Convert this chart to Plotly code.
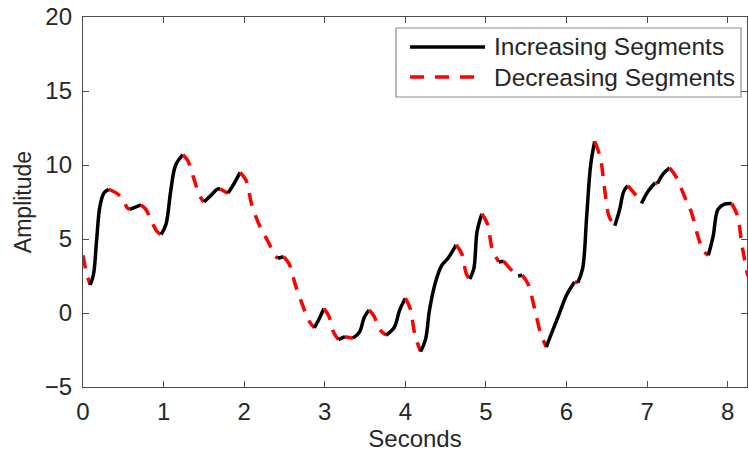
import plotly.graph_objects as go

# Curve key points (seconds, amplitude)
seconds = [0.00, 0.04, 0.09, 0.13, 0.17, 0.21, 0.26, 0.32, 0.40, 0.48, 0.55, 0.58,
           0.65, 0.72, 0.78, 0.85, 0.92, 0.97, 1.03, 1.09, 1.15, 1.24, 1.30, 1.38,
           1.45, 1.50, 1.58, 1.66, 1.70, 1.76, 1.80, 1.87, 1.95, 2.02, 2.10, 2.20,
           2.30, 2.38, 2.42, 2.49, 2.56, 2.63, 2.72, 2.80, 2.87, 2.93, 2.99, 3.05,
           3.11, 3.17, 3.25, 3.35, 3.43, 3.49, 3.55, 3.61, 3.68, 3.76, 3.86, 3.93,
           4.00, 4.06, 4.12, 4.19, 4.25, 4.30, 4.37, 4.45, 4.53, 4.63, 4.70, 4.76,
           4.80, 4.85, 4.89, 4.95, 5.02, 5.08, 5.16, 5.22, 5.30, 5.40, 5.45, 5.52,
           5.60, 5.68, 5.75, 5.82, 5.90, 6.00, 6.10, 6.14, 6.20, 6.25, 6.30, 6.35,
           6.42, 6.47, 6.53, 6.60, 6.66, 6.71, 6.76, 6.84, 6.93, 7.01, 7.10, 7.13,
           7.20, 7.28, 7.36, 7.47, 7.55, 7.63, 7.70, 7.76, 7.82, 7.88, 7.96, 8.05,
           8.12, 8.18, 8.25]
amplitude = [3.9, 2.8, 1.9, 2.6, 5.0, 7.2, 8.1, 8.35, 8.15, 7.8, 7.1, 7.0,
             7.15, 7.3, 7.0, 6.2, 5.5, 5.3, 6.0, 8.3, 10.0, 10.7, 10.3, 9.0,
             7.9, 7.5, 7.9, 8.35, 8.4, 8.2, 8.1, 8.7, 9.5, 9.0, 7.2, 5.8,
             4.8, 3.9, 3.7, 3.8, 3.3, 2.0, 0.6, -0.5, -1.0, -0.4, 0.3, -0.2,
             -1.3, -1.8, -1.6, -1.7, -1.3, -0.3, 0.2, -0.2, -1.1, -1.5, -1.0, 0.2,
             1.0, 0.3, -1.5, -2.6, -1.8, 0.2, 2.0, 3.2, 3.7, 4.6, 4.0, 2.6,
             2.3, 3.0, 5.5, 6.7, 6.0, 4.3, 3.45, 3.5, 3.0, 2.5, 2.55, 2.0,
             0.4, -1.4, -2.3, -1.3, -0.2, 1.2, 2.1, 2.05, 3.0, 6.5, 10.0, 11.6,
             10.5, 8.5, 6.5, 5.9, 7.0, 8.2, 8.6, 8.1, 7.4, 8.2, 8.8, 8.75,
             9.4, 9.8, 9.2, 7.8, 6.8, 5.2, 4.2, 3.9, 5.2, 7.0, 7.35, 7.4,
             6.6, 4.5, 2.5]

x_ticks = [0, 1, 2, 3, 4, 5, 6, 7, 8]
y_ticks = [-5, 0, 5, 10, 15, 20]

series_names = ["Increasing Segments", "Decreasing Segments"]
series_colors = ["#000000", "#ff0000"]

FONT = "Liberation Sans, Arial, sans-serif"
TXT = "#262626"
DASH = "13px,10px"
LEG_DASH = "14px,11px"

# split curve into monotonic runs
runs = []
cur = [0]
cur_dir = None
for i in range(1, len(seconds)):
    d = 1 if amplitude[i] > amplitude[i - 1] else -1
    if cur_dir is None or d == cur_dir:
        cur.append(i)
        cur_dir = d
    else:
        runs.append((cur_dir, cur))
        cur = [i - 1, i]
        cur_dir = d
runs.append((cur_dir, cur))

fig = go.Figure()
for d, idx in runs:
    k = 0 if d == 1 else 1
    fig.add_trace(go.Scatter(
        x=[seconds[i] for i in idx], y=[amplitude[i] for i in idx],
        mode="lines", line_shape="spline", name=series_names[k],
        line=dict(color=series_colors[k], width=3.5,
                  dash="solid" if d == 1 else DASH),
        legendgroup=series_names[k], showlegend=False, hoverinfo="skip"))

# legend box (paper coordinates of the plot area)
PL, PR, PT, PB = 83, 747, 17, 387
def px(xp):
    return (xp - PL) / (PR - PL)
def py(yp):
    return (PB - yp) / (PB - PT)

fig.add_shape(type="rect", xref="paper", yref="paper",
              x0=px(396), x1=px(741), y0=py(97), y1=py(28),
              line=dict(color="#8c8c8c", width=1.2), fillcolor="white", layer="above")
row_y = [47, 77]
for k in range(2):
    fig.add_shape(type="line", xref="paper", yref="paper",
                  x0=px(410), x1=px(485), y0=py(row_y[k]), y1=py(row_y[k]),
                  line=dict(color=series_colors[k], width=3.5,
                            dash="solid" if k == 0 else LEG_DASH), layer="above")
    fig.add_annotation(xref="paper", yref="paper", x=px(492), y=py(row_y[k]),
                       xanchor="left", yanchor="middle", showarrow=False,
                       text=series_names[k],
                       font=dict(family=FONT, size=24.5, color=TXT))

axis_common = dict(
    showgrid=False, zeroline=False, showline=True, linecolor="#4d4d4d",
    linewidth=1.3, mirror="ticks", ticks="inside", ticklen=6, tickwidth=1.2,
    tickcolor="#4d4d4d", tickfont=dict(family=FONT, size=24, color=TXT),
    automargin=False,
)
fig.update_layout(
    width=748, height=457,
    margin=dict(l=PL, r=748 - PR, t=PT, b=457 - PB),
    paper_bgcolor="white", plot_bgcolor="white",
    font=dict(family=FONT, color=TXT),
    xaxis=dict(range=[0, 8.24], tickvals=x_ticks, ticklabelstandoff=3,
               title=dict(text="Seconds", font=dict(family=FONT, size=24, color=TXT), standoff=0),
               **axis_common),
    yaxis=dict(range=[-5, 20], tickvals=y_ticks, ticklabelstandoff=5,
               title=dict(text="Amplitude", font=dict(family=FONT, size=23, color=TXT), standoff=6),
               **axis_common),
    showlegend=False,
)
fig.write_html("out.html", config={"displayModeBar": False},
               post_script="document.body.style.margin='0';document.body.style.overflow='hidden';")
